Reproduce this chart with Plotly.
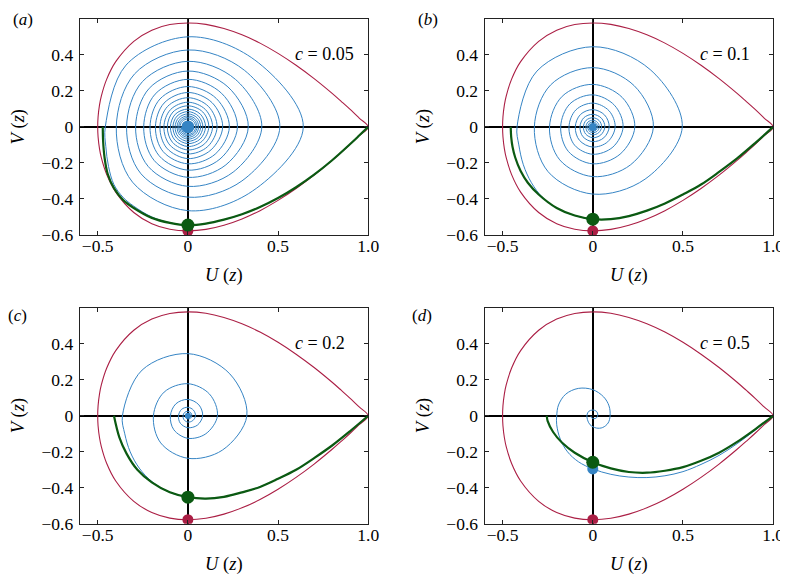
import math
import plotly.graph_objects as go

# ---------------- data ----------------
panel_letters = ["a", "b", "c", "d"]
c_labels = ["0.05", "0.1", "0.2", "0.5"]

# red separatrix (upper branch; lower branch is its mirror image)
red_u = [1.0, 0.95, 0.9, 0.85, 0.8, 0.7, 0.6, 0.5, 0.4, 0.3, 0.2, 0.1, 0.0,
         -0.1, -0.2, -0.3, -0.4, -0.45, -0.48, -0.49, -0.498, -0.5]
red_v = [0.0, 0.049, 0.097, 0.142, 0.186, 0.268, 0.342, 0.408, 0.465, 0.511, 0.546, 0.569, 0.577,
         0.568, 0.537, 0.475, 0.362, 0.265, 0.171, 0.122, 0.055, 0.0]

# green curves
green_u_a = [1.0, 0.95, 0.9, 0.8, 0.7, 0.6, 0.5, 0.4, 0.3, 0.2, 0.1, 0.0, -0.1, -0.2, -0.3, -0.36, -0.41, -0.445, -0.462, -0.47, -0.472]
green_v_a = [0.0, -0.048, -0.095, -0.185, -0.265, -0.335, -0.395, -0.445, -0.485, -0.515, -0.537, -0.546, -0.533, -0.505, -0.45, -0.405, -0.34, -0.26, -0.17, -0.08, 0.0]
green_u_b = [1.0, 0.9, 0.8, 0.7, 0.6, 0.5, 0.4, 0.3, 0.2, 0.1, 0.0, -0.1, -0.2, -0.3, -0.36, -0.4, -0.43, -0.445, -0.452, -0.455]
green_v_b = [0.0, -0.09, -0.175, -0.25, -0.32, -0.375, -0.425, -0.465, -0.495, -0.512, -0.512, -0.492, -0.45, -0.375, -0.31, -0.245, -0.17, -0.11, -0.06, 0.0]
green_u_c = [1.0, 0.9, 0.8, 0.7, 0.6, 0.5, 0.4, 0.3, 0.2, 0.1, 0.0, -0.1, -0.2, -0.28, -0.34, -0.38, -0.41]
green_v_c = [0.0, -0.085, -0.165, -0.235, -0.3, -0.35, -0.395, -0.425, -0.45, -0.46, -0.452, -0.425, -0.37, -0.3, -0.21, -0.12, 0.0]
green_u_d = [1.0, 0.9, 0.8, 0.7, 0.6, 0.5, 0.4, 0.3, 0.2, 0.1, 0.0, -0.1, -0.17, -0.22, -0.25, -0.255]
green_v_d = [0.0, -0.075, -0.145, -0.205, -0.25, -0.285, -0.305, -0.316, -0.312, -0.292, -0.258, -0.205, -0.15, -0.09, -0.03, 0.0]

# blue trajectories: first the part leaving the saddle (mostly hidden under the green curve) ...
blue_pre_u_a = [1.0, 0.95, 0.9, 0.8, 0.7, 0.6, 0.5, 0.4, 0.3, 0.2, 0.1, 0.0, -0.1, -0.2, -0.3, -0.36, -0.41, -0.44, -0.455]
blue_pre_v_a = [0.0, -0.048, -0.095, -0.185, -0.265, -0.335, -0.395, -0.445, -0.485, -0.515, -0.537, -0.546, -0.532, -0.5, -0.44, -0.39, -0.32, -0.22, -0.11]
blue_pre_u_b = [1.0, 0.9, 0.8, 0.7, 0.6, 0.5, 0.4, 0.3, 0.2, 0.1, 0.0, -0.1, -0.2, -0.28, -0.34, -0.385, -0.41]
blue_pre_v_b = [0.0, -0.09, -0.175, -0.25, -0.32, -0.375, -0.425, -0.465, -0.495, -0.512, -0.512, -0.492, -0.45, -0.39, -0.31, -0.21, -0.1]
blue_pre_u_c = [1.0, 0.9, 0.8, 0.7, 0.6, 0.5, 0.4, 0.3, 0.2, 0.1, 0.0, -0.1, -0.2, -0.27, -0.32, -0.35]
blue_pre_v_c = [0.0, -0.085, -0.165, -0.235, -0.3, -0.35, -0.395, -0.425, -0.45, -0.46, -0.452, -0.425, -0.365, -0.29, -0.2, -0.1]

# ... then the spiral: distance from the origin read along successive rays, going clockwise
ray_angles_deg = [180, 135, 90, 45, 0, -45, -90, -135]
spiral_r_a = [0.458, 0.485, 0.50, 0.525, 0.64, 0.505, 0.465, 0.434,
              0.397, 0.417, 0.427, 0.444, 0.51, 0.424, 0.39, 0.368,
              0.34, 0.356, 0.364, 0.373, 0.41, 0.355, 0.33, 0.311,
              0.29, 0.303, 0.31, 0.314, 0.335, 0.298, 0.28, 0.264,
              0.245, 0.257, 0.264, 0.264, 0.275, 0.252, 0.24, 0.226,
              0.21, 0.219, 0.224, 0.223, 0.23, 0.214, 0.205, 0.194,
              0.18, 0.187, 0.191, 0.19, 0.193, 0.181, 0.176, 0.166,
              0.155, 0.16, 0.162, 0.161, 0.162, 0.155, 0.15, 0.142,
              0.133, 0.136, 0.137, 0.137, 0.137, 0.132, 0.128, 0.121,
              0.114, 0.117, 0.117, 0.117, 0.116, 0.112, 0.109, 0.103,
              0.097, 0.099, 0.099, 0.099, 0.098, 0.096, 0.093, 0.088,
              0.083, 0.085, 0.085, 0.084, 0.083, 0.082, 0.08, 0.076,
              0.071, 0.072, 0.072, 0.072, 0.071, 0.07, 0.068, 0.064,
              0.06, 0.061, 0.061, 0.061, 0.06, 0.059, 0.058, 0.055,
              0.051, 0.052, 0.052, 0.052, 0.051, 0.05, 0.049, 0.047,
              0.044, 0.044, 0.044, 0.044, 0.043, 0.043, 0.042, 0.04, 0.037]
spiral_r_b = [0.42, 0.438, 0.445, 0.45, 0.496, 0.41, 0.373, 0.351,
              0.324, 0.33, 0.329, 0.324, 0.336, 0.297, 0.276, 0.259,
              0.24, 0.24, 0.236, 0.231, 0.233, 0.214, 0.205, 0.192,
              0.178, 0.18, 0.178, 0.17, 0.168, 0.158, 0.152, 0.143,
              0.132, 0.133, 0.132, 0.127, 0.124, 0.117, 0.112, 0.105,
              0.097, 0.097, 0.096, 0.093, 0.091, 0.086, 0.082, 0.077,
              0.071, 0.071, 0.07, 0.068, 0.067, 0.063, 0.06, 0.056,
              0.052, 0.052, 0.051, 0.05, 0.049, 0.046, 0.044, 0.041,
              0.038, 0.038, 0.037, 0.036, 0.036, 0.034, 0.032, 0.03,
              0.028, 0.028, 0.027, 0.027, 0.026, 0.025, 0.024, 0.022, 0.02]
spiral_r_c = [0.363, 0.359, 0.345, 0.329, 0.327, 0.27, 0.236, 0.213,
              0.191, 0.186, 0.178, 0.17, 0.164, 0.141, 0.125, 0.11,
              0.097, 0.094, 0.091, 0.086, 0.082, 0.074, 0.066, 0.059,
              0.052, 0.05, 0.047, 0.044, 0.042, 0.038, 0.035, 0.031,
              0.027, 0.026, 0.025, 0.023, 0.022, 0.02, 0.018, 0.016, 0.014]

# blue trajectory in panel (d)
blue_u_d = [1.0, 0.9, 0.8, 0.7, 0.6, 0.5, 0.4, 0.3, 0.2, 0.1, 0.0, -0.08, -0.14, -0.18, -0.2, -0.2, -0.19, -0.15, -0.08, 0.0, 0.06, 0.09, 0.096,
            0.085, 0.055, 0.02, -0.015, -0.03, -0.032, -0.022, 0.0, 0.02, 0.028, 0.02, 0.005, -0.008, -0.01]
blue_v_d = [0.0, -0.08, -0.155, -0.22, -0.27, -0.31, -0.333, -0.343, -0.34, -0.325, -0.295, -0.255, -0.2, -0.13, -0.05, 0.0, 0.06, 0.12, 0.152, 0.145, 0.105, 0.055, 0.0,
            -0.04, -0.065, -0.068, -0.05, -0.02, 0.005, 0.025, 0.032, 0.025, 0.005, -0.012, -0.016, -0.01, 0.0]

dot_red_v = [-0.577, -0.577, -0.577, -0.577]
dot_green_v = [-0.545, -0.512, -0.452, -0.258]
dot_blue_v = [0.0, 0.0, 0.0, -0.295]
dot_blue_size = [13, 8, 6, 11]

x_ticks = [-0.5, 0, 0.5, 1.0]
x_ticktext = ["\u22120.5", "0", "0.5", "1.0"]
y_ticks = [-0.6, -0.4, -0.2, 0, 0.2, 0.4]
y_ticktext = ["\u22120.6", "\u22120.4", "\u22120.2", "0", "0.2", "0.4"]

# ---------------- styles ----------------
RED = "#ab1f45"
BLUE = "#3584c4"
GREEN = "#0b5a12"
FONT = "Liberation Serif"
W, H = 788, 575

# panel frames in pixels: (left, right, top, bottom)
frames = [(72.7, 365.3, 11, 231), (483.3, 776, 11, 231),
          (72.7, 365.3, 305, 525), (483.3, 776, 305, 525)]
# panel-letter offsets (pixels left of frame, pixels below frame top)
label_offsets = [(57, 1), (57, 1), (63, 8), (63, 8)]


def spiral_points(radii):
    us, vs = [], []
    for k, r in enumerate(radii):
        a = math.radians(ray_angles_deg[k % len(ray_angles_deg)])
        us.append(r * math.cos(a))
        vs.append(r * math.sin(a))
    return us, vs


def blue_path(pre_u, pre_v, radii):
    su, sv = spiral_points(radii)
    return pre_u + su, pre_v + sv


blues = [blue_path(blue_pre_u_a, blue_pre_v_a, spiral_r_a),
         blue_path(blue_pre_u_b, blue_pre_v_b, spiral_r_b),
         blue_path(blue_pre_u_c, blue_pre_v_c, spiral_r_c),
         (blue_u_d, blue_v_d)]
greens = [(green_u_a, green_v_a), (green_u_b, green_v_b), (green_u_c, green_v_c), (green_u_d, green_v_d)]

red_full_u = red_u + red_u[::-1][1:]
red_full_v = red_v + [-v for v in red_v[::-1][1:]]

fig = go.Figure()
for i in range(4):
    xa = "x" if i == 0 else f"x{i+1}"
    ya = "y" if i == 0 else f"y{i+1}"
    su, sv = blues[i]
    fig.add_trace(go.Scatter(x=su, y=sv, mode="lines", line=dict(color=BLUE, width=1, shape="spline", smoothing=1.0),
                             xaxis=xa, yaxis=ya, showlegend=False, hoverinfo="skip"))
    fig.add_trace(go.Scatter(x=red_full_u, y=red_full_v, mode="lines", line=dict(color=RED, width=1.1, shape="spline", smoothing=1.0),
                             xaxis=xa, yaxis=ya, showlegend=False, hoverinfo="skip"))
    gu, gv = greens[i]
    fig.add_trace(go.Scatter(x=gu, y=gv, mode="lines", line=dict(color=GREEN, width=2.2, shape="spline", smoothing=1.0),
                             xaxis=xa, yaxis=ya, showlegend=False, hoverinfo="skip"))
    fig.add_trace(go.Scatter(x=[0], y=[dot_red_v[i]], mode="markers", marker=dict(color=RED, size=11),
                             xaxis=xa, yaxis=ya, showlegend=False, hoverinfo="skip"))
    fig.add_trace(go.Scatter(x=[0], y=[dot_blue_v[i]], mode="markers", marker=dict(color=BLUE, size=dot_blue_size[i]),
                             xaxis=xa, yaxis=ya, showlegend=False, hoverinfo="skip"))
    fig.add_trace(go.Scatter(x=[0], y=[dot_green_v[i]], mode="markers", marker=dict(color=GREEN, size=13),
                             xaxis=xa, yaxis=ya, showlegend=False, hoverinfo="skip"))

    l, r, t, b = frames[i]
    axcommon = dict(showgrid=False, zeroline=True, zerolinecolor="black", zerolinewidth=2,
                    showline=True, linecolor="#222", linewidth=1, mirror="ticks",
                    ticks="inside", ticklen=4, tickcolor="#222",
                    tickfont=dict(family=FONT, size=17.5, color="black"))
    fig.update_layout(**{
        ("xaxis" if i == 0 else f"xaxis{i+1}"): dict(axcommon, domain=[l / W, r / W], range=[-0.6, 1.0],
                                                     tickvals=x_ticks, ticktext=x_ticktext, anchor=ya,
                                                     ticklabelstandoff=-5),
        ("yaxis" if i == 0 else f"yaxis{i+1}"): dict(axcommon, domain=[1 - b / H, 1 - t / H], range=[-0.6, 0.6],
                                                     tickvals=y_ticks, ticktext=y_ticktext, anchor=xa,
                                                     ticklabelstandoff=2),
    })
    # panel label
    dx, dy = label_offsets[i]
    fig.add_annotation(text=f"(<i>{panel_letters[i]}</i>)", x=(l - dx) / W, y=1 - (t + dy) / H, xref="paper", yref="paper",
                       showarrow=False, font=dict(family=FONT, size=17, color="black"), xanchor="center", yanchor="middle")
    # c label
    fig.add_annotation(text=f"<i>c</i> = {c_labels[i]}", x=0.585, y=0.405, xref=xa, yref=ya, showarrow=False,
                       font=dict(family=FONT, size=18, color="black"), xanchor="left", yanchor="middle")
    # axis titles
    fig.add_annotation(text="<i>U</i> (<i>z</i>)", x=(l + r) / 2 / W, y=1 - (b + 41) / H, xref="paper", yref="paper",
                       showarrow=False, font=dict(family=FONT, size=18.5, color="black"), xanchor="center", yanchor="middle")
    fig.add_annotation(text="<i>V</i> (<i>z</i>)", x=(l - 62) / W, y=1 - (t + b) / 2 / H, xref="paper", yref="paper",
                       showarrow=False, textangle=-90, font=dict(family=FONT, size=18.5, color="black"),
                       xanchor="center", yanchor="middle")

fig.update_layout(width=W, height=H, margin=dict(l=0, r=0, t=0, b=0), plot_bgcolor="white", paper_bgcolor="white")
fig.write_html("out.html")
